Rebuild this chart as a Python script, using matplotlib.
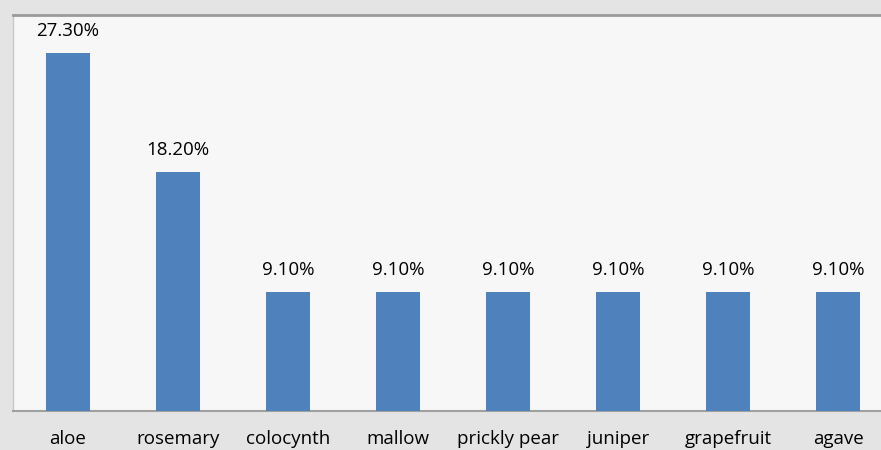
import matplotlib.pyplot as plt

plants = ["aloe", "rosemary", "colocynth", "mallow", "prickly pear", "juniper", "grapefruit", "agave"]
shares = [27.3, 18.2, 9.1, 9.1, 9.1, 9.1, 9.1, 9.1]
labels = ["27.30%", "18.20%", "9.10%", "9.10%", "9.10%", "9.10%", "9.10%", "9.10%"]

plt.rcParams["font.family"] = ["Open Sans", "DejaVu Sans"]

fig = plt.figure(figsize=(8.81, 4.5), dpi=100, facecolor="#e4e4e4")
ax = fig.add_axes([13 / 881, (450 - 411) / 450, 1 - 13 / 881, (411 - 15) / 450])
ax.set_facecolor("#f7f7f7")

x = range(len(plants))
ax.bar(x, shares, width=0.4, color="#4f81bd", zorder=3)
for xi, val, text in zip(x, shares, labels):
    ax.annotate(text, (xi, val), xytext=(0, 13), textcoords="offset pixels",
                ha="center", va="bottom", fontsize=13.5, color="#000000")

ax.set_xlim(-0.5, 7.39)
ax.set_ylim(0, 30.2)
ax.set_yticks([])
ax.set_xticks(list(x))
ax.set_xticklabels(plants, fontsize=13.5)
ax.tick_params(axis="x", length=0, pad=14)

ax.spines["right"].set_visible(False)
ax.spines["top"].set_color("#9a9a9a")
ax.spines["top"].set_linewidth(2)
ax.spines["left"].set_color("#c8c8c8")
ax.spines["left"].set_linewidth(1)
ax.spines["bottom"].set_color("#a0a0a0")
ax.spines["bottom"].set_linewidth(1.5)

fig.savefig("out.png", dpi=100, facecolor=fig.get_facecolor())
